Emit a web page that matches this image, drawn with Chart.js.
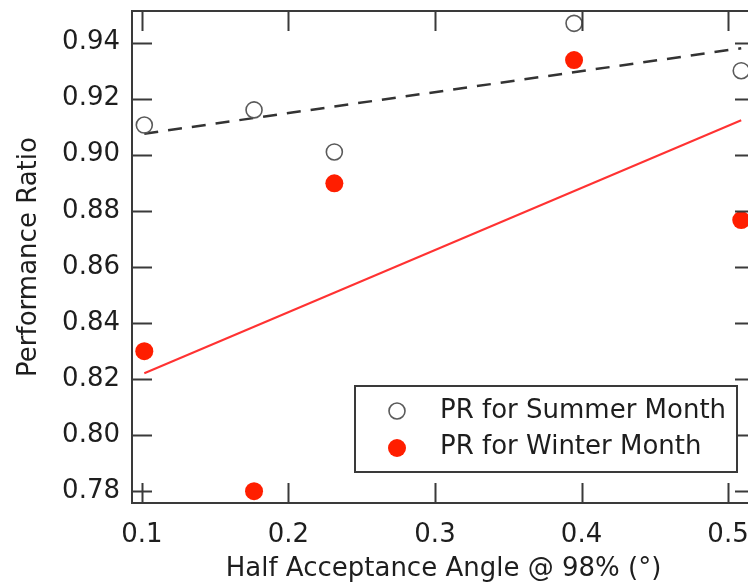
<!DOCTYPE html>
<html>
<head>
<meta charset="utf-8">
<script src="https://cdn.jsdelivr.net/npm/chart.js@4/dist/chart.umd.min.js"></script>
<style>
  html, body { margin: 0; padding: 0; overflow: hidden; background: #fff; }
  #wrap { width: 770px; height: 585px; position: relative; }
</style>
</head>
<body>
<div id="wrap"><canvas id="c"></canvas></div>
<script>
// ---- data ----
const angleX       = [0.1016, 0.1765, 0.2313, 0.3949, 0.509];
const summerPR     = [0.9106, 0.916, 0.901, 0.9469, 0.930];
const winterPR     = [0.8299, 0.7799, 0.8898, 0.9338, 0.8767];
const fitX         = [0.1016, 0.509];
const summerFitY   = [0.9075, 0.938];
const winterFitY   = [0.822, 0.9123];
const xTicks       = [0.1, 0.2, 0.3, 0.4, 0.5];
const yTicks       = [0.78, 0.80, 0.82, 0.84, 0.86, 0.88, 0.90, 0.92, 0.94];
const seriesLabels = ['PR for Summer Month', 'PR for Winter Month'];
const xTitle = 'Half Acceptance Angle @ 98% (°)';
const yTitle = 'Performance Ratio';

const FONT = 'DejaVu Sans';
const INK = '#1e1e1e';
const RED = 'rgb(255,30,0)';

const pts = (xs, ys) => xs.map((x, i) => ({ x, y: ys[i] }));
const noPad = s => { s.paddingTop = 0; s.paddingBottom = 0; s.paddingLeft = 0; s.paddingRight = 0; };

const framePlugin = {
  id: 'frame',
  afterDatasetsDraw(chart) {
    const { ctx, chartArea: a, scales } = chart;
    ctx.save();
    ctx.strokeStyle = '#3a3a3a';
    ctx.lineWidth = 2;
    ctx.strokeRect(a.left, a.top, a.right - a.left, a.bottom - a.top);
    const L = 20;
    ctx.beginPath();
    scales.x.ticks.forEach(t => {
      const px = Math.round(scales.x.getPixelForValue(t.value)) + 0.5;
      ctx.moveTo(px, a.bottom); ctx.lineTo(px, a.bottom - L);
      ctx.moveTo(px, a.top); ctx.lineTo(px, a.top + L);
    });
    scales.y.ticks.forEach(t => {
      const py = Math.round(scales.y.getPixelForValue(t.value)) + 0.5;
      ctx.moveTo(a.left, py); ctx.lineTo(a.left + L, py);
      ctx.moveTo(a.right, py); ctx.lineTo(a.right - L, py);
    });
    ctx.stroke();
    ctx.restore();
  },
  afterDraw(chart) {
    const { ctx } = chart;
    const box = { l: 355, t: 386, r: 737, b: 472 };
    ctx.save();
    ctx.fillStyle = '#fff';
    ctx.fillRect(box.l, box.t, box.r - box.l, box.b - box.t);
    ctx.strokeStyle = '#3a3a3a';
    ctx.lineWidth = 2;
    ctx.strokeRect(box.l, box.t, box.r - box.l, box.b - box.t);
    const rows = [
      { ds: chart.data.datasets[2], my: 411, ty: 411 },
      { ds: chart.data.datasets[3], my: 448, ty: 447 }
    ];
    rows.forEach(r => {
      ctx.beginPath();
      ctx.arc(397, r.my, r.ds.pointRadius, 0, Math.PI * 2);
      if (r.ds.backgroundColor !== 'transparent') {
        ctx.fillStyle = r.ds.backgroundColor;
        ctx.fill();
      }
      if (r.ds.borderWidth > 0) {
        ctx.lineWidth = r.ds.borderWidth;
        ctx.strokeStyle = r.ds.borderColor;
        ctx.stroke();
      }
      ctx.fillStyle = INK;
      ctx.font = '26px "' + FONT + '"';
      ctx.textBaseline = 'middle';
      ctx.textAlign = 'left';
      ctx.fillText(r.ds.label, 440, r.ty);
    });
    ctx.restore();
  }
};

new Chart(document.getElementById('c'), {
  type: 'scatter',
  data: {
    datasets: [
      {
        type: 'line', label: '', data: pts(fitX, summerFitY),
        borderColor: '#333', borderWidth: 2.5, borderDash: [14, 10],
        pointRadius: 0, fill: false, order: 4
      },
      {
        type: 'line', label: '', data: pts(fitX, winterFitY),
        borderColor: 'rgb(255,50,50)', borderWidth: 2,
        pointRadius: 0, fill: false, order: 3
      },
      {
        label: seriesLabels[0], data: pts(angleX, summerPR),
        pointRadius: 8, pointHoverRadius: 8, pointStyle: 'circle',
        backgroundColor: 'transparent', borderColor: '#5a5a5a', borderWidth: 1.6,
        order: 2
      },
      {
        label: seriesLabels[1], data: pts(angleX, winterPR),
        pointRadius: 9, pointHoverRadius: 9, pointStyle: 'circle',
        backgroundColor: RED, borderColor: RED, borderWidth: 0,
        order: 1
      }
    ]
  },
  options: {
    responsive: true,
    maintainAspectRatio: false,
    animation: false,
    events: [],
    layout: { padding: { top: 11, right: 15, left: 0, bottom: 0 } },
    plugins: { legend: { display: false }, tooltip: { enabled: false } },
    scales: {
      x: {
        type: 'linear', min: 0.0932, max: 0.5184,
        afterBuildTicks: s => { s.ticks = xTicks.map(v => ({ value: v })); },
        afterFit: s => { s.height = 82; noPad(s); },
        grid: { display: false, drawTicks: false },
        border: { display: false },
        ticks: {
          padding: 17, color: INK, maxRotation: 0, autoSkip: false,
          font: { family: FONT, size: 26 },
          callback: v => Number(v).toFixed(1)
        },
        title: {
          display: true, text: xTitle, color: INK,
          font: { family: FONT, size: 26 },
          padding: { top: 0, bottom: 0 }
        }
      },
      y: {
        type: 'linear', min: 0.7757, max: 0.9513,
        afterBuildTicks: s => { s.ticks = yTicks.map(v => ({ value: v })); },
        afterFit: s => { s.width = 132; noPad(s); },
        grid: { display: false, drawTicks: false },
        border: { display: false },
        ticks: {
          padding: 12, color: INK, autoSkip: false,
          font: { family: FONT, size: 26 },
          callback: v => Number(v).toFixed(2)
        },
        title: {
          display: true, text: yTitle, color: INK,
          font: { family: FONT, size: 26 },
          padding: { top: 14, bottom: 0 }
        }
      }
    }
  },
  plugins: [framePlugin]
});
</script>
</body>
</html>
